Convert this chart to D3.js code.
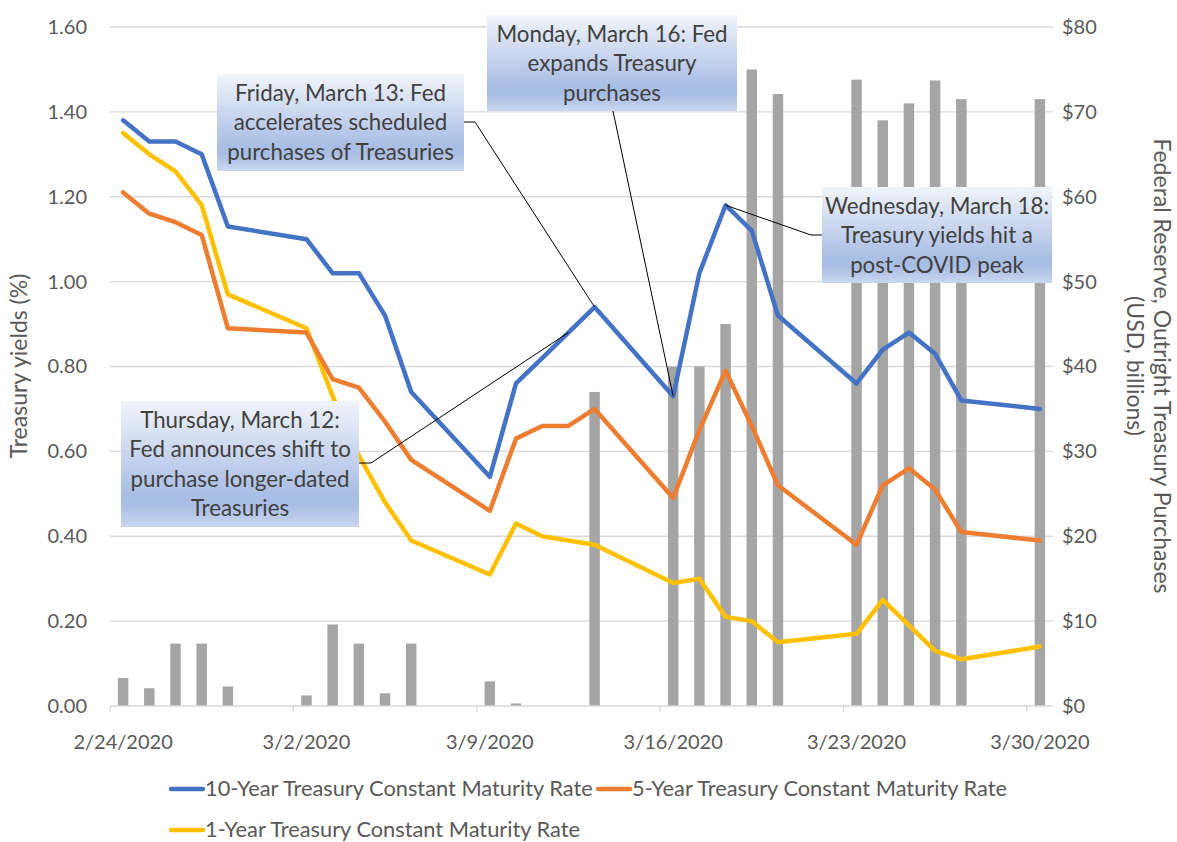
<!DOCTYPE html>
<html>
<head>
<meta charset="utf-8">
<script src="https://cdn.jsdelivr.net/npm/d3@7"></script>
<style>
  html, body { margin: 0; padding: 0; background: #ffffff; }
  svg { display: block; font-family: Lato, "Noto Sans", sans-serif; }
</style>
</head>
<body>
<svg id="chart" width="1177" height="842"></svg>
<script>
// ---------- DATA ----------
const calendarDays = ["2/24","2/25","2/26","2/27","2/28","2/29","3/1","3/2","3/3","3/4","3/5","3/6","3/7","3/8",
  "3/9","3/10","3/11","3/12","3/13","3/14","3/15","3/16","3/17","3/18","3/19","3/20","3/21","3/22",
  "3/23","3/24","3/25","3/26","3/27","3/28","3/29","3/30"];
const xTickDays = ["2/24","3/2","3/9","3/16","3/23","3/30"];
const xTickLabels = ["2/24/2020","3/2/2020","3/9/2020","3/16/2020","3/23/2020","3/30/2020"];

const purchaseDays = ["2/24","2/25","2/26","2/27","2/28","3/2","3/3","3/4","3/5","3/6","3/9","3/10",
  "3/13","3/16","3/17","3/18","3/19","3/20","3/23","3/24","3/25","3/26","3/27","3/30"];
const purchases = [3.3,2.1,7.35,7.35,2.3,1.25,9.6,7.35,1.5,7.35,2.9,0.3,
  37,40,40,45,75,72.1,73.8,69,71,73.7,71.5,71.5];

const tradingDays = ["2/24","2/25","2/26","2/27","2/28","3/2","3/3","3/4","3/5","3/6","3/9","3/10","3/11","3/12","3/13",
  "3/16","3/17","3/18","3/19","3/20","3/23","3/24","3/25","3/26","3/27","3/30"];
const yield10 = [1.38,1.33,1.33,1.30,1.13,1.10,1.02,1.02,0.92,0.74,0.54,0.76,0.82,0.88,0.94,0.73,1.02,1.18,1.12,0.92,0.76,0.84,0.88,0.83,0.72,0.70];
const yield5  = [1.21,1.16,1.14,1.11,0.89,0.88,0.77,0.75,0.67,0.58,0.46,0.63,0.66,0.66,0.70,0.49,0.65,0.79,0.66,0.52,0.38,0.52,0.56,0.51,0.41,0.39];
const yield1  = [1.35,1.30,1.26,1.18,0.97,0.89,0.73,0.59,0.48,0.39,0.31,0.43,0.40,0.39,0.38,0.29,0.30,0.21,0.20,0.15,0.17,0.25,0.19,0.13,0.11,0.14];

const seriesNames = ["10-Year Treasury Constant Maturity Rate","5-Year Treasury Constant Maturity Rate","1-Year Treasury Constant Maturity Rate"];
const leftTicks = [0,0.2,0.4,0.6,0.8,1.0,1.2,1.4,1.6];
const rightTicks = [0,10,20,30,40,50,60,70,80];

const annotationText = [
  ["Friday, March 13: Fed","accelerates scheduled","purchases of Treasuries"],
  ["Monday, March 16: Fed","expands Treasury","purchases"],
  ["Wednesday, March 18:","Treasury yields hit a","post-COVID peak"],
  ["Thursday, March 12:","Fed announces shift to","purchase longer-dated","Treasuries"]
];
const annotationDays = ["3/13","3/16","3/18","3/12"];

// ---------- LAYOUT ----------
const svg = d3.select("#chart");
const plot = {left: 110, right: 1053, top: 27, bottom: 706};
const colors = ["#4472c4","#ed7d31","#ffc000"];
const barColor = "#a5a5a5";
const gridColor = "#d9d9d9";
const textColor = "#595959";

const x = d3.scaleBand().domain(calendarDays).range([plot.left, plot.right]).padding(0);
const xc = d => x(d) + x.bandwidth()/2;
const yL = d3.scaleLinear().domain([0,1.6]).range([plot.bottom, plot.top]);
const yR = d3.scaleLinear().domain([0,80]).range([plot.bottom, plot.top]);

// gradient
const defs = svg.append("defs");
const grad = defs.append("linearGradient").attr("id","boxGrad").attr("x1",0).attr("y1",0).attr("x2",0).attr("y2",1);
grad.append("stop").attr("offset","0%").attr("stop-color","#f1f4fb");
grad.append("stop").attr("offset","74%").attr("stop-color","#a9bee4");
grad.append("stop").attr("offset","83%").attr("stop-color","#a9bee4");
grad.append("stop").attr("offset","100%").attr("stop-color","#c9d6ef");

// gridlines
svg.append("g").selectAll("line").data(leftTicks.filter(d => d > 0)).join("line")
  .attr("x1", plot.left).attr("x2", plot.right)
  .attr("y1", d => yL(d)).attr("y2", d => yL(d))
  .attr("stroke", gridColor).attr("stroke-width", 1.3);

// bars
const barW = x.bandwidth() * 0.4;
svg.append("g").selectAll("rect").data(purchaseDays.map((d,i) => ({d, v: purchases[i]}))).join("rect")
  .attr("x", p => xc(p.d) - barW/2).attr("width", barW)
  .attr("y", p => yR(p.v)).attr("height", p => yR(0) - yR(p.v))
  .attr("fill", barColor);

// x axis line + ticks
svg.append("line").attr("x1", plot.left).attr("x2", plot.right)
  .attr("y1", plot.bottom).attr("y2", plot.bottom).attr("stroke", gridColor).attr("stroke-width", 1.3);
svg.append("g").selectAll("line").data(xTickDays).join("line")
  .attr("x1", d => x(d)).attr("x2", d => x(d))
  .attr("y1", plot.bottom).attr("y2", plot.bottom + 6)
  .attr("stroke", gridColor).attr("stroke-width", 1.3);
svg.append("g").selectAll("text").data(xTickDays).join("text")
  .attr("x", d => xc(d)).attr("y", plot.bottom + 43)
  .attr("text-anchor","middle").attr("font-size", 20).attr("fill", textColor)
  .text((d,i) => xTickLabels[i]);

// left axis
const axL = svg.append("g").attr("transform", `translate(${plot.left},0)`)
  .call(d3.axisLeft(yL).tickValues(leftTicks).tickFormat(d3.format(".2f")).tickSize(0).tickPadding(23));
axL.select(".domain").remove();
axL.selectAll("text").attr("font-size", 20).attr("fill", textColor).attr("font-family","Lato, sans-serif");

// right axis
const axR = svg.append("g").attr("transform", `translate(${plot.right},0)`)
  .call(d3.axisRight(yR).tickValues(rightTicks).tickFormat(d => "$" + d).tickSize(0).tickPadding(9));
axR.select(".domain").remove();
axR.selectAll("text").attr("font-size", 20).attr("fill", textColor).attr("font-family","Lato, sans-serif");

// axis titles
svg.append("text").attr("transform","translate(27,366) rotate(-90)")
  .attr("text-anchor","middle").attr("font-size", 23).attr("fill", textColor)
  .text("Treasury yields (%)");
svg.append("text").attr("transform","translate(1154,366) rotate(90)")
  .attr("text-anchor","middle").attr("font-size", 23).attr("fill", textColor)
  .text("Federal Reserve, Outright Treasury Purchases");
svg.append("text").attr("transform","translate(1127,366) rotate(90)")
  .attr("text-anchor","middle").attr("font-size", 23).attr("fill", textColor)
  .text("(USD, billions)");

// lines
const series = [yield10, yield5, yield1];
const line = d3.line().x(d => xc(d.d)).y(d => yL(d.v));
[2,1,0].forEach(k => {
  svg.append("path")
    .datum(tradingDays.map((d,i) => ({d, v: series[k][i]})))
    .attr("d", line).attr("fill","none").attr("stroke", colors[k])
    .attr("stroke-width", 4.5).attr("stroke-linejoin","round").attr("stroke-linecap","round");
});

// annotations
const y10At = d => yL(yield10[tradingDays.indexOf(d)]);
const boxes = [
  {x: 217, y: 74, w: 247, h: 97, from: [[464,122],[475,122]]},
  {x: 487, y: 15, w: 250, h: 96, from: [[613,111]]},
  {x: 822, y: 187, w: 230, h: 96, from: [[822,235],[811,235]]},
  {x: 121, y: 401, w: 238, h: 126, from: [[359,463],[371,463]]}
];
const gAnn = svg.append("g");
boxes.forEach((b,i) => {
  const pts = b.from.concat([[xc(annotationDays[i]), y10At(annotationDays[i])]]);
  gAnn.append("path").attr("d", d3.line()(pts)).attr("fill","none").attr("stroke","#000").attr("stroke-width",1);
});
boxes.forEach((b,i) => {
  gAnn.append("rect").attr("x", b.x).attr("y", b.y).attr("width", b.w).attr("height", b.h).attr("fill","url(#boxGrad)");
  const lines = annotationText[i];
  const lh = 29.3;
  lines.forEach((t,j) => {
    gAnn.append("text").attr("x", b.x + b.w/2).attr("y", b.y + 27 + j*lh)
      .attr("text-anchor","middle").attr("font-size", 22.3).attr("fill","#404040").text(t);
  });
});

// legend
const legendItems = [
  {k:0, x:171, y:789},
  {k:1, x:598, y:789},
  {k:2, x:171, y:830}
];
const gLeg = svg.append("g");
legendItems.forEach(it => {
  gLeg.append("line").attr("x1", it.x).attr("x2", it.x + 32).attr("y1", it.y).attr("y2", it.y)
    .attr("stroke", colors[it.k]).attr("stroke-width", 4.5).attr("stroke-linecap","round");
  gLeg.append("text").attr("x", it.x + 34).attr("y", it.y + 7).attr("font-size", 21.8)
    .attr("fill", textColor).text(seriesNames[it.k]);
});
</script>
</body>
</html>
